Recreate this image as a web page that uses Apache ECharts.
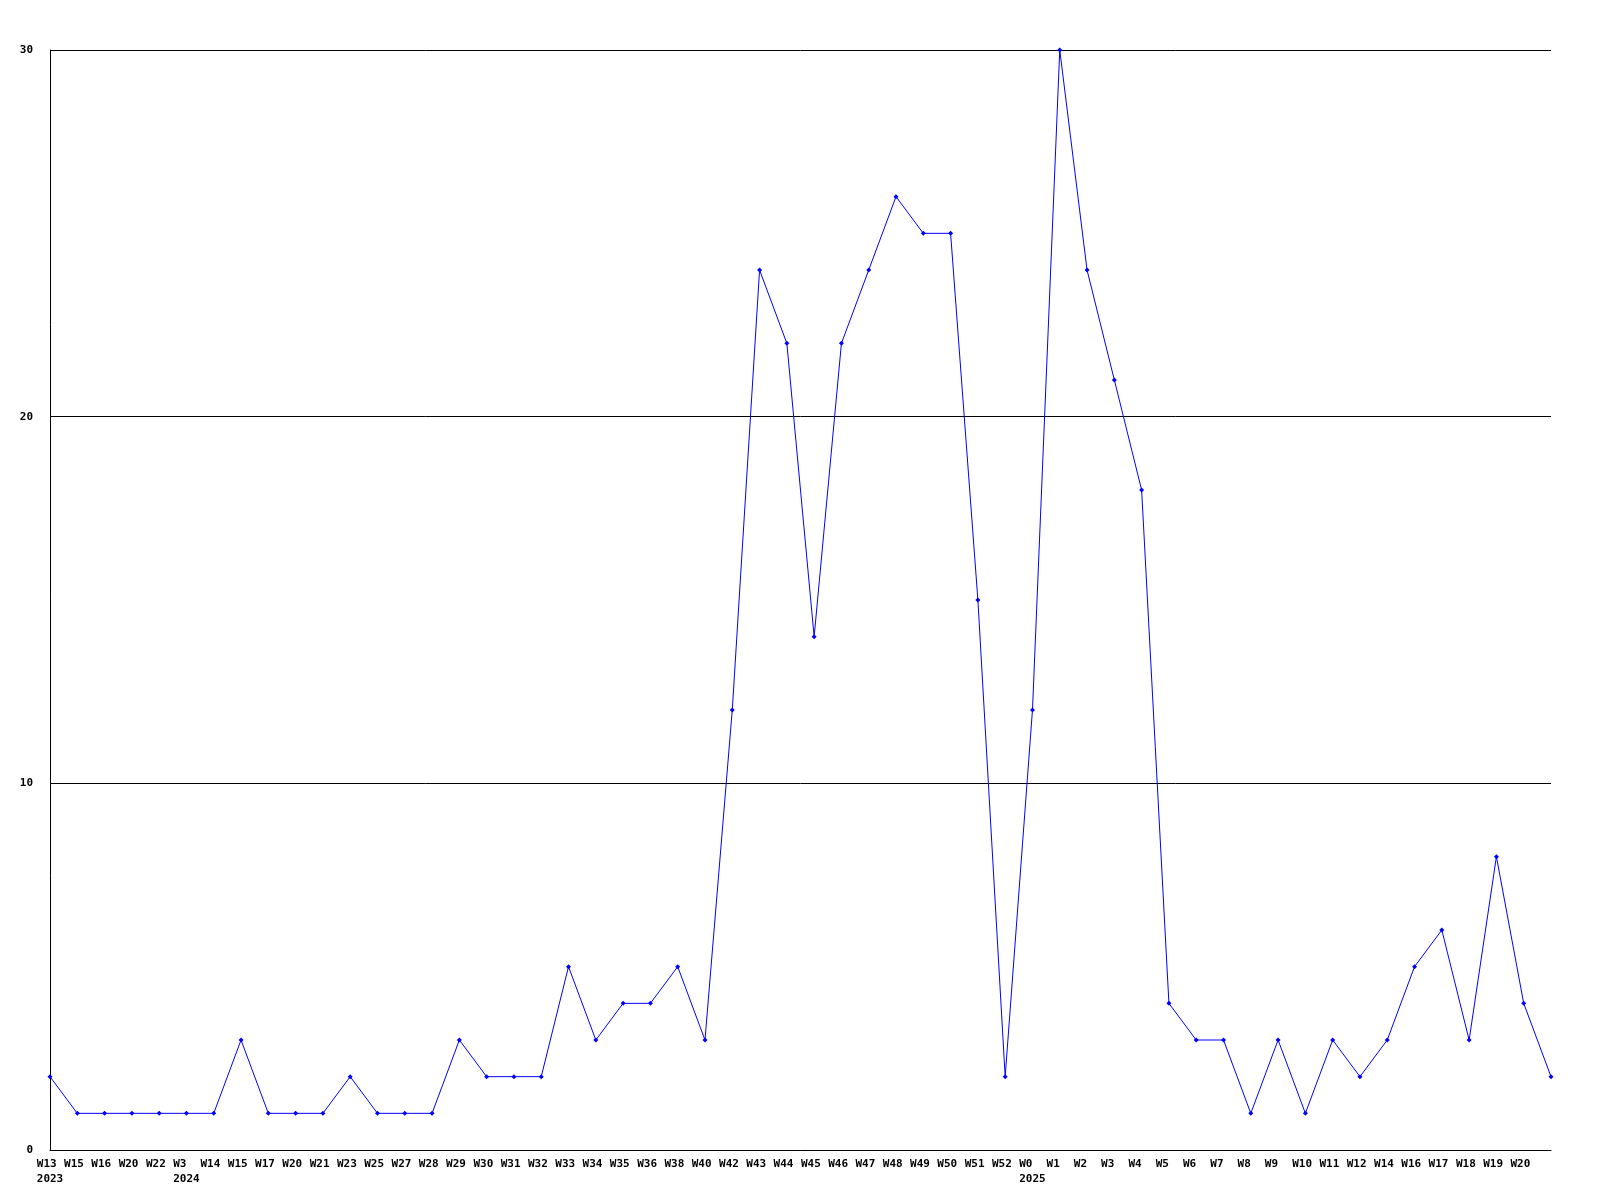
<!DOCTYPE html>
<html>
<head>
<meta charset="utf-8">
<script src="https://cdn.jsdelivr.net/npm/echarts@6/dist/echarts.min.js"></script>
<style>
html,body{margin:0;padding:0;background:#fff;}
#chart{width:1600px;height:1200px;}
</style>
</head>
<body>
<div id="chart"></div>
<script>
const weeks = ["W13","W15","W16","W20","W22","W3","W14","W15","W17","W20","W21","W23","W25","W27","W28","W29","W30","W31","W32","W33","W34","W35","W36","W38","W40","W42","W43","W44","W45","W46","W47","W48","W49","W50","W51","W52","W0","W1","W2","W3","W4","W5","W6","W7","W8","W9","W10","W11","W12","W14","W16","W17","W18","W19","W20","W21"];
const years = {0:"2023",5:"2024",36:"2025"};
const values = [2,1,1,1,1,1,1,3,1,1,1,2,1,1,1,3,2,2,2,5,3,4,4,5,3,12,24,22,14,22,24,26,25,25,15,2,12,30,24,21,18,4,3,3,1,3,1,3,2,3,5,6,3,8,4,2];
const yTicks = [0,10,20,30];

const chart = echarts.init(document.getElementById('chart'));
const font = {fontFamily:'DejaVu Sans Mono', fontWeight:'bold', fontSize:11, color:'#000'};
function pad4(s){ while(s.length<4) s+=' '; return s; }
chart.setOption({
  backgroundColor:'#fff',
  animation:false,
  grid:{left:50, right:49, top:50, bottom:50, containLabel:false},
  xAxis:{
    type:'category', data:weeks, boundaryGap:false,
    axisLine:{lineStyle:{color:'#000', width:1}},
    axisTick:{show:false},
    splitLine:{show:false},
    axisLabel:Object.assign({}, font, {
      interval:(i)=> i < weeks.length-1,
      margin:7, lineHeight:15, align:'center',
      formatter:(v,i)=> pad4(v) + (years[i] ? '\n' + years[i] : '')
    })
  },
  yAxis:{
    type:'value', min:yTicks[0], max:yTicks[yTicks.length-1], interval:10,
    axisLine:{show:true, lineStyle:{color:'#000', width:1}},
    axisTick:{show:false},
    splitLine:{show:true, lineStyle:{color:'#000', width:1}},
    axisLabel:Object.assign({}, font, {margin:17})
  },
  series:[{
    type:'line', data:values,
    lineStyle:{color:'#0000ff', width:1},
    itemStyle:{color:'#0000ff'},
    symbol:'diamond', symbolSize:5,
    showAllSymbol:true
  }]
});
</script>
</body>
</html>
